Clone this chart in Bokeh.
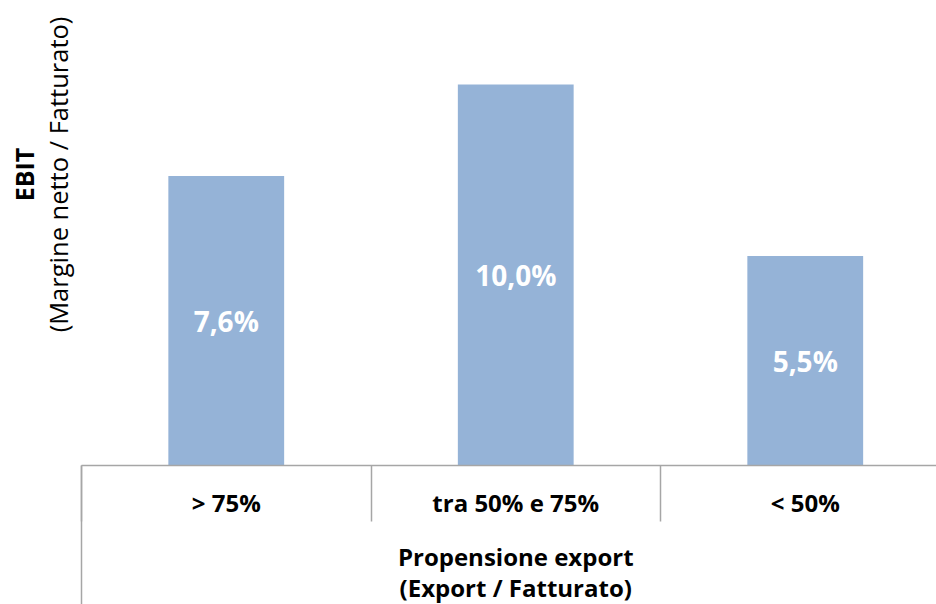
from bokeh.plotting import figure
from bokeh.models import Range1d, FixedTicker, LinearAxis, Label, LabelSet, ColumnDataSource
from bokeh.core.properties import value
from bokeh.embed import file_html
from bokeh.resources import INLINE

# ---- data ----
categories = ["> 75%", "tra 50% e 75%", "< 50%"]
ebit_values = [7.6, 10.0, 5.5]
value_labels = ["7,6%", "10,0%", "5,5%"]
y_title = "EBIT"
y_subtitle = "(Margine netto / Fatturato)"
x_title = "Propensione export"
x_subtitle = "(Export / Fatturato)"

FONT = "Open Sans"
BAR_COLOR = "#95B3D7"
AXIS_COLOR = "#a6a6a6"

# layout constants (pixels, relative to the figure's top-left)
W, H = 936, 604
LEFT = 81          # x pixel of the category area's left edge
AXIS_Y = 465       # y pixel of the category axis
CAT_PX = 289.5     # pixels per category
PX_PER_UNIT = 38.1 # pixels per percentage point
Y_MAX = AXIS_Y / PX_PER_UNIT

def px_to_x(px):
    return (px - LEFT) / CAT_PX

def px_to_y(py):
    return (AXIS_Y - py) / PX_PER_UNIT

x_start, x_end = px_to_x(0), px_to_x(W)
y_start = px_to_y(H)

positions = [i + 0.5 for i in range(len(categories))]
boundaries = [float(i) for i in range(len(categories) + 1)]

src = ColumnDataSource(dict(
    x=positions,
    top=ebit_values,
    mid=[v / 2 for v in ebit_values],
    lbl=value_labels,
))

p = figure(width=W, height=H, output_backend="svg", toolbar_location=None,
           x_range=Range1d(x_start, x_end), y_range=Range1d(y_start, Y_MAX),
           x_axis_location=None, y_axis_location=None,
           min_border_left=0, min_border_right=0, min_border_top=0, min_border_bottom=0)
p.outline_line_color = None
p.xgrid.grid_line_color = None
p.ygrid.grid_line_color = None
p.background_fill_color = "white"
p.border_fill_color = "white"

p.vbar(x="x", top="top", width=0.4, source=src, fill_color=BAR_COLOR, line_color=None)

p.add_layout(LabelSet(x="x", y="mid", text="lbl", source=src,
                      text_align="center", text_baseline="middle",
                      text_color="white", text_font=value(FONT), text_font_style="bold",
                      text_font_size="28px"))

# category axis, fixed at y = 0
ax = LinearAxis(fixed_location=0, bounds=(0, len(categories)),
                ticker=FixedTicker(ticks=positions, minor_ticks=boundaries),
                major_label_overrides={pos: c for pos, c in zip(positions, categories)},
                major_tick_in=0, major_tick_out=0, major_tick_line_color=None,
                minor_tick_in=0, minor_tick_out=56, minor_tick_line_color=AXIS_COLOR,
                minor_tick_line_width=1.5,
                axis_line_color=AXIS_COLOR, axis_line_width=1.5,
                major_label_text_font=FONT, major_label_text_font_style="bold",
                major_label_text_font_size="24px", major_label_text_color="black",
                major_label_standoff=-36)
p.add_layout(ax, "below")

# outer group line at the left of the categories
ay = LinearAxis(fixed_location=0, bounds=(y_start, 0),
                ticker=FixedTicker(ticks=[], minor_ticks=[]),
                major_tick_line_color=None, minor_tick_line_color=None,
                axis_line_color=AXIS_COLOR, axis_line_width=1.5,
                major_label_text_font_size="0px")
p.add_layout(ay, "left")

mid_x = len(categories) / 2
p.add_layout(Label(x=mid_x, y=px_to_y(556), text=x_title, text_align="center",
                   text_baseline="middle", text_font=FONT, text_font_style="bold",
                   text_font_size="24px", text_color="black"))
p.add_layout(Label(x=mid_x, y=px_to_y(587), text=x_subtitle, text_align="center",
                   text_baseline="middle", text_font=FONT, text_font_style="bold",
                   text_font_size="24px", text_color="black"))

p.add_layout(Label(x=px_to_x(23.5), y=px_to_y(174), text=y_title, angle=90, angle_units="deg",
                   text_align="center", text_baseline="middle", text_font=FONT,
                   text_font_style="bold", text_font_size="25px", text_color="black"))
p.add_layout(Label(x=px_to_x(57), y=px_to_y(174), text=y_subtitle, angle=90, angle_units="deg",
                   text_align="center", text_baseline="middle", text_font=FONT,
                   text_font_size="25.5px", text_color="black"))

open("out.html", "w").write(file_html(p, INLINE))
